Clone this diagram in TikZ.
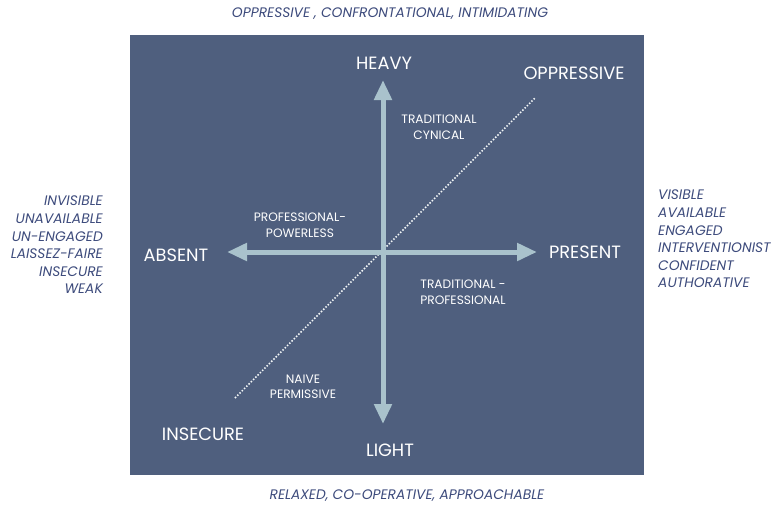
\documentclass[tikz,border=0pt]{standalone}
\usepackage{fontspec}
\setmainfont{Poppins}
\usetikzlibrary{arrows.meta}
\definecolor{panel}{HTML}{4F5F7E}
\definecolor{axis}{HTML}{A9C2CC}
\definecolor{outer}{HTML}{3D4B7C}
\begin{document}
\begin{tikzpicture}[x=1pt,y=-1pt,
  big/.style={text=white,font=\fontsize{17.8}{19}\selectfont,inner sep=0pt},
  small/.style={text=white,font=\fontsize{12.2}{15.5}\selectfont,align=center,inner sep=0pt},
  side/.style={text=outer,font=\itshape\fontsize{13.8}{17.6}\selectfont,inner sep=0pt},
  axisline/.style={draw=axis,line width=5pt,-{Triangle[length=20pt,width=17pt]}},
  diag/.style={draw=white!85!axis,line width=1.5pt,dash pattern=on 1.5pt off 1.7pt}]
\useasboundingbox (0,0) rectangle (777,507);
% panel
\fill[panel] (130,35) rectangle (644,475);
% axes
\coordinate (c) at (383,252);
\coordinate (top) at (383,80);
\coordinate (bot) at (383,424);
\coordinate (lft) at (227,252);
\coordinate (rgt) at (537,252);
\coordinate (d1) at (235,398);
\coordinate (d2) at (535,98);
\draw[diag] (d1) -- (d2);
\draw[axisline] (c) -- (top);
\draw[axisline] (c) -- (bot);
\draw[axisline] (c) -- (lft);
\draw[axisline] (c) -- (rgt);
% pole labels
\node[big] (heavy) at (384,63) {HEAVY};
\node[big] (light) at (390,450) {LIGHT};
\node[big] (absent) at (176,255) {ABSENT};
\node[big] (present) at (585,252) {PRESENT};
\node[big] (oppr) at (574,73) {OPPRESSIVE};
\node[big] (insec) at (203,434) {INSECURE};
% quadrant labels
\node[small] (tc) at (439,127) {TRADITIONAL\\CYNICAL};
\node[small] (pp) at (300,225) {PROFESSIONAL-\\POWERLESS};
\node[small] (tp) at (463,292) {TRADITIONAL -\\PROFESSIONAL};
\node[small] (np) at (303,387) {NAIVE\\PERMISSIVE};
% outer descriptions
\node[side] (toptxt) at (390,14) {OPPRESSIVE , CONFRONTATIONAL, INTIMIDATING};
\node[side] (bottxt) at (407,496) {RELAXED, CO-OPERATIVE, APPROACHABLE};
\node[side,align=right,anchor=east] (lefttxt) at (103,245) {INVISIBLE\\UNAVAILABLE\\UN-ENGAGED\\LAISSEZ-FAIRE\\INSECURE\\WEAK};
\node[side,align=left,anchor=west] (righttxt) at (658,239) {VISIBLE\\AVAILABLE\\ENGAGED\\INTERVENTIONIST\\CONFIDENT\\AUTHORATIVE};
\end{tikzpicture}
\end{document}
